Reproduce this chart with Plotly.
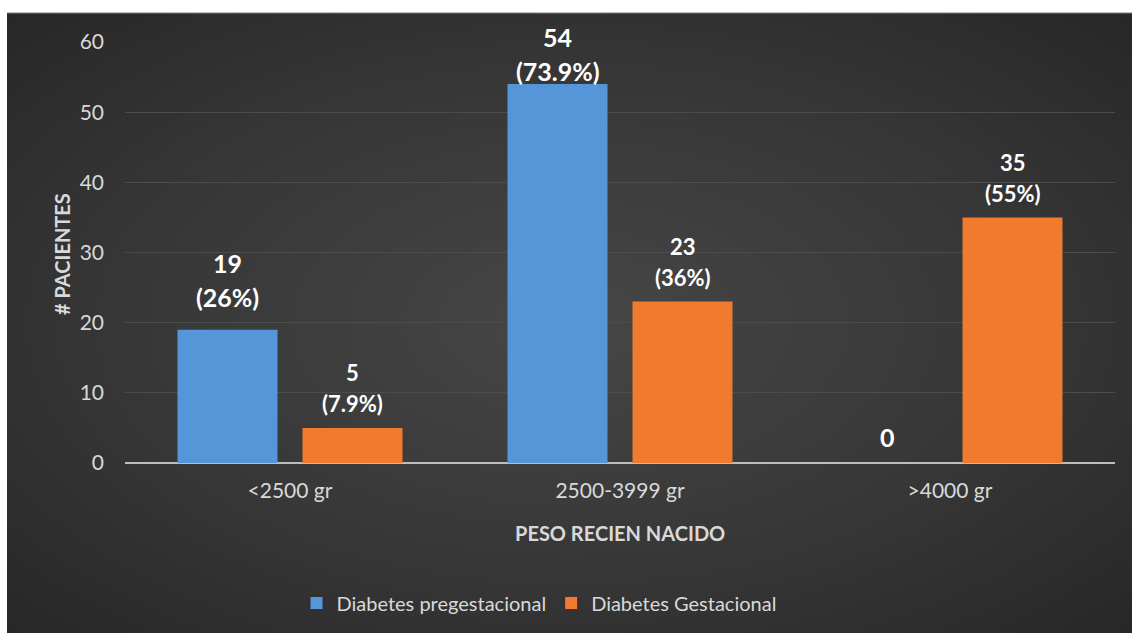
import numpy as np
import plotly.graph_objects as go

# ---- data ----
categories = ["<2500 gr", "2500-3999 gr", ">4000 gr"]
pregestacional = [19, 54, 0]
pregestacional_pct = ["26%", "73.9%", None]
gestacional = [5, 23, 35]
gestacional_pct = ["7.9%", "36%", "55%"]
y_ticks = [0, 10, 20, 30, 40, 50, 60]

W, H = 1132, 633
FONT = "Lato, Open Sans, sans-serif"
TXT = "#d9d9d9"

# plot-area placement in pixels
PL, PR, PB, PT = 125, 1115, 463, 42


def px_x(v):
    return v / W


def px_y(v):
    return 1 - v / H


fig = go.Figure()

# dark radial backdrop, drawn as a smooth heatmap behind everything
gx = np.linspace(-1, 1, 120)
gy = np.linspace(-1, 1, 80)
XX, YY = np.meshgrid(gx, gy)
rr = np.sqrt(XX ** 2 + YY ** 2) / np.sqrt(2)
fig.add_trace(go.Heatmap(
    z=rr, x=gx, y=gy, zsmooth="best", showscale=False, hoverinfo="skip",
    colorscale=[[0, "#464646"], [0.55, "#363636"], [1, "#252525"]],
    xaxis="x", yaxis="y",
))

idx = list(range(len(categories)))
fig.add_trace(go.Bar(
    name="Diabetes pregestacional", x=idx, y=pregestacional,
    marker=dict(color="#5596d8", line=dict(width=0)),
    xaxis="x2", yaxis="y2", hoverinfo="skip",
))
fig.add_trace(go.Bar(
    name="Diabetes Gestacional", x=idx, y=gestacional,
    marker=dict(color="#f07b2e", line=dict(width=0)),
    xaxis="x2", yaxis="y2", hoverinfo="skip",
))

# value / percentage labels above each bar
annotations = []
bar_off = 62.5  # pixel offset of each bar from its category centre


def add_label(i, val, pct, shift_x, size, off_val, off_pct):
    annotations.append(dict(
        x=i, y=val, xref="x2", yref="y2", text=f"<b>{val}</b>",
        showarrow=False, xshift=shift_x, yshift=off_val,
        xanchor="center", yanchor="middle",
        font=dict(family=FONT, size=size, color="#ffffff"),
    ))
    if pct is not None:
        annotations.append(dict(
            x=i, y=val, xref="x2", yref="y2", text=f"<b>({pct})</b>",
            showarrow=False, xshift=shift_x, yshift=off_pct,
            xanchor="center", yanchor="middle",
            font=dict(family=FONT, size=size, color="#ffffff"),
        ))


for i, (v, p) in enumerate(zip(pregestacional, pregestacional_pct)):
    if v >= 50:
        add_label(i, v, p, -bar_off, 25, 47, 13)
    elif p is None:
        add_label(i, v, p, -bar_off, 25, 26, 0)
    else:
        add_label(i, v, p, -bar_off, 25, 67, 33)

for i, (v, p) in enumerate(zip(gestacional, gestacional_pct)):
    add_label(i, v, p, bar_off, 22, 55, 24)

# axis titles
annotations.append(dict(
    x=px_x(62), y=px_y(254), xref="paper", yref="paper",
    xanchor="center", yanchor="middle",
    text="<b># PACIENTES</b>", textangle=-90, showarrow=False,
    font=dict(family=FONT, size=20, color=TXT),
))
annotations.append(dict(
    x=px_x(620), y=px_y(533), xref="paper", yref="paper",
    xanchor="center", yanchor="middle",
    text="<b>PESO RECIEN NACIDO</b>", showarrow=False,
    font=dict(family=FONT, size=20, color=TXT),
))

fig.update_layout(
    width=W, height=H,
    margin=dict(l=0, r=0, t=0, b=0, pad=0, autoexpand=False),
    paper_bgcolor="#ffffff",
    plot_bgcolor="rgba(0,0,0,0)",
    barmode="group",
    bargap=0.2424,
    bargroupgap=0.2,
    showlegend=True,
    legend=dict(
        orientation="h", x=px_x(539), xanchor="center",
        y=px_y(603), yanchor="middle",
        font=dict(family=FONT, size=20, color=TXT),
        bgcolor="rgba(0,0,0,0)", itemwidth=30, traceorder="normal",
    ),
    font=dict(family=FONT, color=TXT),
    xaxis=dict(domain=[px_x(7), 1], range=[-0.95, 0.95], visible=False,
               fixedrange=True, automargin=False),
    yaxis=dict(domain=[0, px_y(13)], range=[-0.95, 0.95], visible=False,
               fixedrange=True, automargin=False),
    xaxis2=dict(
        domain=[px_x(PL), px_x(PR)], anchor="y2",
        range=[-0.5, len(categories) - 0.5],
        tickmode="array", tickvals=idx, ticktext=categories,
        showgrid=False, zeroline=False, showline=False, ticks="",
        tickfont=dict(family=FONT, size=21, color=TXT),
        ticklabelstandoff=13, automargin=False,
    ),
    yaxis2=dict(
        domain=[px_y(PB), px_y(PT)], anchor="x2",
        range=[0, 60], tickvals=y_ticks,
        showgrid=True, gridcolor="#4c4c4c", gridwidth=1,
        zeroline=True, zerolinecolor="#bdbdbd", zerolinewidth=2,
        showline=False, ticks="",
        tickfont=dict(family=FONT, size=21, color=TXT),
        ticklabelstandoff=20, automargin=False,
    ),
    annotations=annotations,
    shapes=[
        # solid dark backing under the gradient, reaching the page edges
        dict(type="rect", xref="paper", yref="paper", layer="below",
             x0=px_x(7), x1=1.01, y0=-0.01, y1=px_y(13),
             fillcolor="#282828", line=dict(width=0)),
        dict(type="line", xref="paper", yref="paper",
             x0=px_x(7), x1=1, y0=px_y(13), y1=px_y(13),
             line=dict(color="#7a7a7a", width=1)),
    ],
)

fig.update_traces(cliponaxis=False, selector=dict(type="bar"))

# the page body gets no default margin so the figure fills the window
fig.write_html(
    "out.html",
    post_script="document.body.style.margin='0';"
                "document.body.style.overflow='hidden';",
)
